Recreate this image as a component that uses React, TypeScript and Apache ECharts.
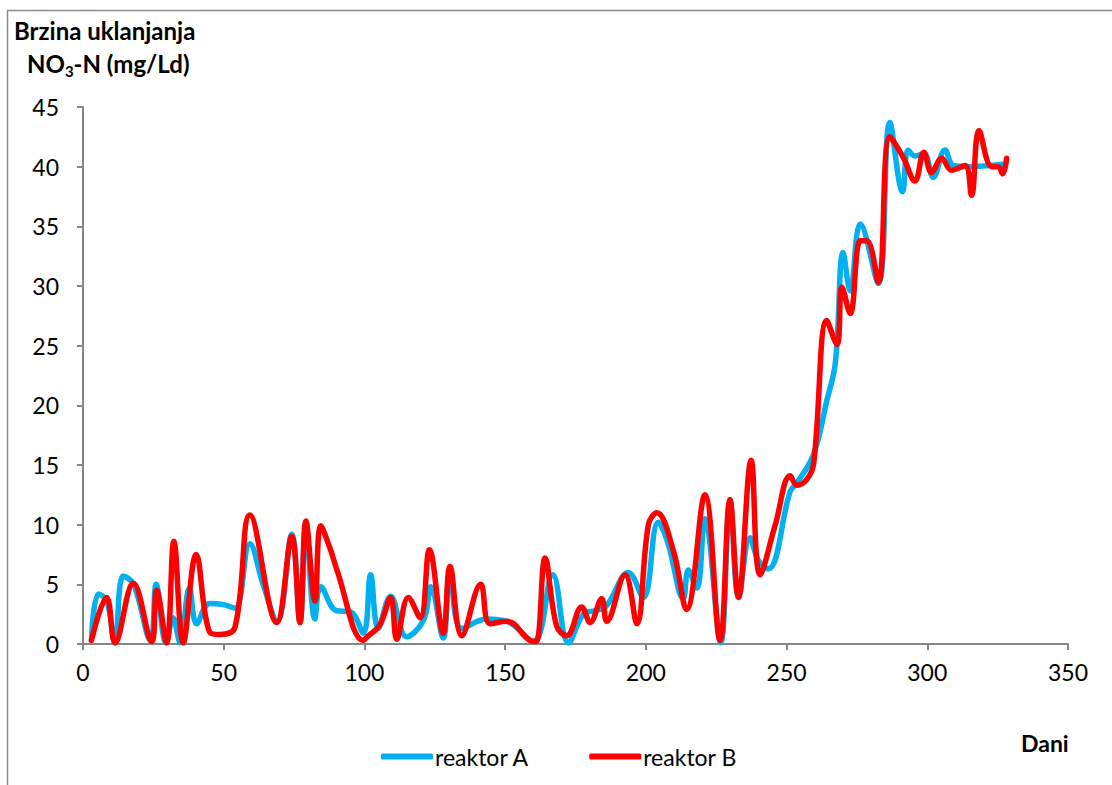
import React, { useEffect, useRef } from "react";
import * as echarts from "echarts";

const xTicks = [0, 50, 100, 150, 200, 250, 300, 350];
const yTicks = [0, 5, 10, 15, 20, 25, 30, 35, 40, 45];
const seriesNames = ["reaktor A", "reaktor B"];

const reaktorA: [number, number][] = [
  [3, 0.3], [5.5, 4.2], [8.5, 3.6], [11.3, 0.1], [14.3, 5.7], [18, 5.0], [24, 0.3],
  [26, 5.0], [29.5, 0.1], [32, 2.2], [34.5, 0.1], [37.8, 4.7], [40.4, 1.7], [45, 3.4],
  [50, 3.3], [54, 3.0], [59.3, 8.4], [64, 5.0], [69, 1.9], [74.2, 9.2], [77.1, 1.8],
  [79.2, 10.0], [82.4, 2.1], [84.5, 4.8], [90, 2.8], [95, 2.7], [99.6, 0.9],
  [102.2, 5.8], [104.9, 1.3], [109.3, 4.0], [115, 0.6], [121, 2.0], [123.6, 4.8],
  [128, 0.5], [130.4, 6.0], [134.6, 1.3], [143.5, 2.1], [150.6, 1.9], [160, 0.2],
  [166.9, 5.8], [172.5, 0.1], [177.8, 2.5], [182, 2.8], [186, 3.2], [193.8, 6.0],
  [199.1, 3.9], [204.4, 10.2], [207.8, 8.5], [213.3, 3.8], [215.1, 6.2], [218.1, 4.7],
  [221, 10.5], [226.6, 0.1], [229.9, 12.0], [233, 3.9], [237, 8.9], [240, 7.0],
  [243.5, 6.3], [251.3, 12.8], [253.7, 13.5], [259.6, 15.9], [264.3, 20.4],
  [267.3, 23.5], [270.1, 32.8], [272.6, 29.6], [276.2, 35.2], [282.6, 30.2],
  [286.7, 43.7], [291.2, 37.9], [293.2, 41.4], [295.6, 40.9], [298.8, 41.1],
  [302.1, 39.1], [306.3, 41.4], [309.3, 40.1], [315, 40.0], [322, 40.1], [327, 40.2],
];

const reaktorB: [number, number][] = [
  [3, 0.3], [8.4, 3.9], [11.4, 0.1], [17.9, 5.1], [24.4, 0.2], [26.2, 4.5], [29.7, 0.1],
  [32.3, 8.6], [35.6, 0.1], [40.2, 7.5], [45, 1.0], [48.6, 0.8], [54, 1.4], [59.3, 10.8],
  [68.8, 1.8], [74.2, 9.0], [77.1, 1.8], [79.2, 10.3], [82.4, 3.6], [84.5, 9.9],
  [87.8, 8.0], [90.1, 6.3], [99.6, 0.3], [101, 0.6], [105.5, 1.6], [109.3, 3.9],
  [111.5, 0.4], [115.6, 3.9], [119.8, 2.2], [123.1, 7.9], [128, 0.9], [130.4, 6.5],
  [134.6, 0.7], [141.3, 5.0], [144.6, 1.7], [150.6, 1.9], [158.8, 0.3], [161, 0.2],
  [164.2, 7.2], [168.3, 1.5], [171.9, 0.7], [177.2, 3.1], [180.2, 1.8], [184.3, 3.8],
  [186.1, 1.9], [192.6, 5.8], [196.8, 1.7], [200.9, 10.0], [203.9, 11.0], [209.8, 7.8],
  [214.5, 2.9], [221, 12.5], [226.4, 0.3], [229.9, 12.1], [232.9, 3.9], [237.4, 15.4],
  [240.6, 5.8], [246, 10.0], [251.3, 14.1], [253.7, 13.3], [257.2, 13.8], [259.6, 15.1],
  [264.3, 27.1], [267.9, 25.1], [269.7, 29.9], [272.6, 27.7], [276.2, 33.8],
  [278.5, 33.8], [282.6, 30.3], [286.7, 42.5], [291.4, 40.8], [295.6, 38.8],
  [298.8, 41.2], [301.5, 39.5], [305.1, 40.7], [308.6, 39.7], [313.4, 40.1],
  [315.7, 37.6], [318.4, 43.0], [322.9, 40.0], [325.2, 40.0], [326.8, 39.4], [328.2, 40.7],
];

const FONT = "Lato, 'Open Sans', sans-serif";
const AXIS_COLOR = "#868686";

export default function App() {
  const ref = useRef<HTMLDivElement>(null);
  useEffect(() => {
    if (!ref.current) return;
    const chart = echarts.init(ref.current, null, { renderer: "svg" });
    chart.setOption({
      animation: false,
      backgroundColor: "#fff",
      grid: { left: 83, right: 44, top: 107, bottom: 141, containLabel: false },
      xAxis: {
        type: "value",
        min: xTicks[0],
        max: xTicks[xTicks.length - 1],
        interval: 50,
        axisLine: { show: true, lineStyle: { color: AXIS_COLOR, width: 2 } },
        axisTick: { show: true, length: 6, lineStyle: { color: AXIS_COLOR, width: 2 } },
        splitLine: { show: false },
        axisLabel: { fontFamily: FONT, fontSize: 23, color: "#000", margin: 16 },
      },
      yAxis: {
        type: "value",
        min: yTicks[0],
        max: yTicks[yTicks.length - 1],
        interval: 5,
        axisLine: { show: true, lineStyle: { color: AXIS_COLOR, width: 2 } },
        axisTick: { show: true, length: 6, lineStyle: { color: AXIS_COLOR, width: 2 } },
        splitLine: { show: false },
        axisLabel: { fontFamily: FONT, fontSize: 23, color: "#000", margin: 24 },
      },
      legend: {
        data: seriesNames,
        left: 376,
        top: 740,
        icon: "roundRect",
        itemWidth: 52,
        itemHeight: 6,
        itemGap: 60,
        textStyle: { fontFamily: FONT, fontSize: 23, color: "#000", padding: [0, 0, 0, -3] },
      },
      series: [
        {
          name: seriesNames[0],
          type: "line",
          data: reaktorA,
          smooth: 0.4,
          symbol: "none",
          color: "#00B0F0",
          lineStyle: { width: 5.5, color: "#00B0F0", cap: "round", join: "round" },
        },
        {
          name: seriesNames[1],
          type: "line",
          data: reaktorB,
          smooth: 0.4,
          symbol: "none",
          color: "#FF0000",
          lineStyle: { width: 5.5, color: "#FF0000", cap: "round", join: "round" },
        },
      ],
      graphic: [
        { type: "line", shape: { x1: 7.5, y1: 10, x2: 7.5, y2: 785 }, style: { stroke: "#8c8c8c", lineWidth: 1.5 } },
        { type: "line", shape: { x1: 7, y1: 10.5, x2: 1112, y2: 10.5 }, style: { stroke: "#8c8c8c", lineWidth: 1.5 } },
        {
          type: "text",
          left: 14,
          top: 18,
          style: { text: "Brzina uklanjanja", font: `bold 24px ${FONT}`, fill: "#000" },
        },
        {
          type: "text",
          left: 27,
          top: 51,
          style: {
            text: "{a|NO}{s|3}{a|-N (mg/Ld)}",
            fill: "#000",
            rich: {
              a: { fontFamily: FONT, fontSize: 24, fontWeight: "bold", lineHeight: 30, fill: "#000" },
              s: { fontFamily: FONT, fontSize: 15, fontWeight: "bold", lineHeight: 17, verticalAlign: "bottom", fill: "#000" },
            },
          },
        },
        {
          type: "text",
          left: 1021,
          top: 731,
          style: { text: "Dani", font: `bold 23px ${FONT}`, fill: "#000" },
        },
      ],
    });
    return () => chart.dispose();
  }, []);
  return (
    <div
      ref={ref}
      style={{ position: "absolute", left: 0, top: 0, width: 1112, height: 785, background: "#fff" }}
    />
  );
}
